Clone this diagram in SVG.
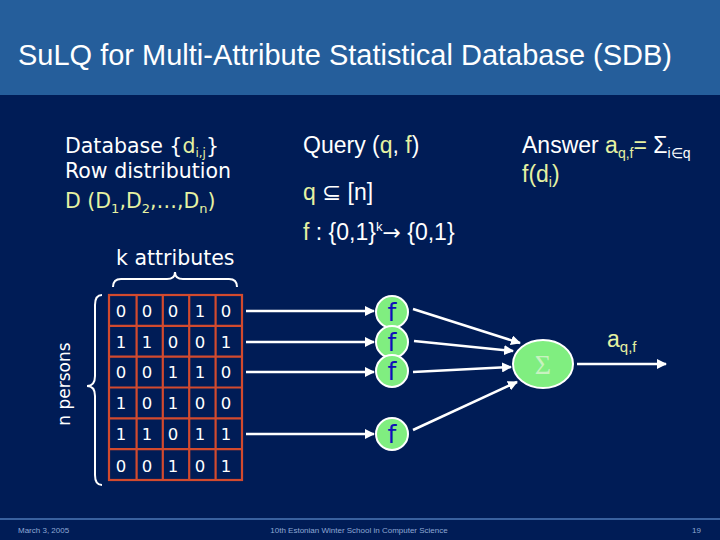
<svg xmlns="http://www.w3.org/2000/svg" width="720" height="540" viewBox="0 0 720 540">
<style>
.bg{fill:#001C56}
.band{fill:#255E9B}
.title{font-family:"Liberation Sans",Arial,sans-serif;font-size:29px;fill:#ffffff}
.tah{font-family:"DejaVu Sans",Verdana,sans-serif;fill:#ffffff}
.ari{font-family:"Liberation Sans",Arial,sans-serif;fill:#ffffff}
.y{fill:#E6F2A2}
.w{fill:#ffffff}
.grid{stroke:#D24A2E;stroke-width:2.2;fill:none}
.dig{font-family:"DejaVu Sans",Verdana,sans-serif;font-size:16.5px;fill:#ffffff;text-anchor:middle}
.brace{stroke:#ffffff;stroke-width:2;fill:none}
.conn{stroke:#ffffff;stroke-width:2.5;fill:none;marker-end:url(#ah)}
.fnode{fill:#80EE80;stroke:#ffffff;stroke-width:2}
.ftxt{font-family:"DejaVu Sans",Verdana,sans-serif;font-size:25px;fill:#1010B8;text-anchor:middle}
.foot{font-family:"Liberation Sans",Arial,sans-serif;font-size:8px;fill:#8FA8D4}
</style>
<defs>
<marker id="ah" viewBox="0 0 10 10" refX="9" refY="5" markerWidth="4" markerHeight="4" orient="auto" markerUnits="strokeWidth">
<path d="M0,0 L10,5 L0,10 z" fill="#ffffff"/>
</marker>
</defs>
<rect class="bg" x="0" y="0" width="720" height="540"/>
<rect class="band" x="0" y="0" width="720" height="95"/>
<text class="title" x="18" y="65" textLength="654" lengthAdjust="spacingAndGlyphs">SuLQ for Multi-Attribute Statistical Database (SDB)</text>

<g id="database-text">
<text class="tah" x="65" y="153" font-size="20.5"><tspan>Database {</tspan><tspan class="y">d</tspan><tspan class="y" font-size="12" dy="4">i,j</tspan><tspan dy="-4">}</tspan></text>
<text class="tah" x="65" y="178" font-size="20.5">Row distribution</text>
<text class="tah y" x="65" y="208" font-size="20.5"><tspan>D  (D</tspan><tspan font-size="13" dy="5">1</tspan><tspan dy="-5">,D</tspan><tspan font-size="13" dy="5">2</tspan><tspan dy="-5">,…,D</tspan><tspan font-size="13" dy="5">n</tspan><tspan dy="-5">)</tspan></text>
</g>

<g id="query-text">
<text class="ari" x="303" y="153" font-size="23"><tspan>Query (</tspan><tspan class="y">q</tspan><tspan>, </tspan><tspan class="y">f</tspan><tspan>)</tspan></text>
<text class="ari" x="303" y="200" font-size="23"><tspan class="y">q</tspan><tspan> ⊆ [n]</tspan></text>
<text class="ari" x="303" y="240" font-size="23"><tspan class="y">f</tspan><tspan> : {0,1}</tspan><tspan font-size="13" dy="-9">k</tspan><tspan dy="9" font-family="'DejaVu Sans',sans-serif" font-size="22">→</tspan><tspan> {0,1}</tspan></text>
</g>

<g id="answer-text">
<text class="ari" x="522" y="153" font-size="23"><tspan>Answer </tspan><tspan class="y">a</tspan><tspan class="y" font-size="14" dy="5">q,f</tspan><tspan class="y" dy="-5">=</tspan><tspan> Σ</tspan><tspan font-size="14" dy="5">i∈q</tspan></text>
<text class="ari y" x="522" y="182" font-size="23"><tspan>f(d</tspan><tspan font-size="14" dy="5">i</tspan><tspan dy="-5">)</tspan></text>
</g>

<g id="k-attributes">
<text class="tah" x="116" y="265" font-size="20.5">k attributes</text>
<path class="brace" d="M113,287 Q113,279 121,279 L167,279 Q175,279 175,272 Q175,279 183,279 L229,279 Q237,279 237,287"/>
</g>

<g id="n-persons">
<text class="tah" font-size="17" text-anchor="middle" transform="translate(70,384) rotate(-90)">n persons</text>
<path class="brace" d="M102,295 Q95,295 95,305 L95,376 Q95,386 87,386 Q95,386 95,396 L95,475 Q95,485 102,485"/>
</g>

<g id="table">
<rect class="grid" x="109" y="295" width="133" height="185"/>
<path class="grid" d="M136.6,295V480 M162.8,295V480 M189.2,295V480 M215.6,295V480 M109,325.8H242 M109,356.7H242 M109,387.5H242 M109,418.3H242 M109,449.2H242"/>
<g class="dig">
<text x="121" y="317">0</text><text x="147" y="317">0</text><text x="173" y="317">0</text><text x="200" y="317">1</text><text x="226" y="317">0</text>
<text x="121" y="348">1</text><text x="147" y="348">1</text><text x="173" y="348">0</text><text x="200" y="348">0</text><text x="226" y="348">1</text>
<text x="121" y="378">0</text><text x="147" y="378">0</text><text x="173" y="378">1</text><text x="200" y="378">1</text><text x="226" y="378">0</text>
<text x="121" y="409">1</text><text x="147" y="409">0</text><text x="173" y="409">1</text><text x="200" y="409">0</text><text x="226" y="409">0</text>
<text x="121" y="440">1</text><text x="147" y="440">1</text><text x="173" y="440">0</text><text x="200" y="440">1</text><text x="226" y="440">1</text>
<text x="121" y="472">0</text><text x="147" y="472">0</text><text x="173" y="472">1</text><text x="200" y="472">0</text><text x="226" y="472">1</text>
</g>
</g>

<g id="connectors">
<line class="conn" x1="246" y1="311" x2="374" y2="311"/>
<line class="conn" x1="246" y1="342" x2="374" y2="342"/>
<line class="conn" x1="246" y1="372" x2="374" y2="372"/>
<line class="conn" x1="246" y1="434" x2="374" y2="434"/>
<line class="conn" x1="413" y1="309" x2="520" y2="343"/>
<line class="conn" x1="414" y1="341" x2="513" y2="351"/>
<line class="conn" x1="413" y1="372" x2="511" y2="367"/>
<line class="conn" x1="413" y1="430" x2="517" y2="382"/>
<line class="conn" x1="577" y1="364" x2="666" y2="364"/>
</g>

<g id="f1"><circle class="fnode" cx="392" cy="312" r="16"/><text class="ftxt" x="392" y="321">f</text></g>
<g id="f2"><circle class="fnode" cx="392" cy="342" r="16"/><text class="ftxt" x="392" y="351">f</text></g>
<g id="f3"><circle class="fnode" cx="392" cy="371" r="16"/><text class="ftxt" x="392" y="380">f</text></g>
<g id="f4"><circle class="fnode" cx="392" cy="434" r="16"/><text class="ftxt" x="392" y="443">f</text></g>

<g id="sum">
<ellipse class="fnode" cx="543" cy="364" rx="30" ry="24"/>
<text x="543" y="374" font-family="'Liberation Serif','Times New Roman',serif" font-size="28" fill="#C8F2C0" text-anchor="middle">Σ</text>
</g>

<g id="output-label">
<text class="ari y" x="607" y="347" font-size="23"><tspan>a</tspan><tspan font-size="15" dy="5">q,f</tspan></text>
</g>

<g id="footer">
<line x1="0" y1="519" x2="720" y2="519" stroke="#4C78B8" stroke-width="1.5"/>
<text class="foot" x="18" y="533">March 3, 2005</text>
<text class="foot" x="359" y="533" text-anchor="middle">10th Estonian Winter School in Computer Science</text>
<text class="foot" x="701" y="533" text-anchor="end">19</text>
</g>
</svg>
